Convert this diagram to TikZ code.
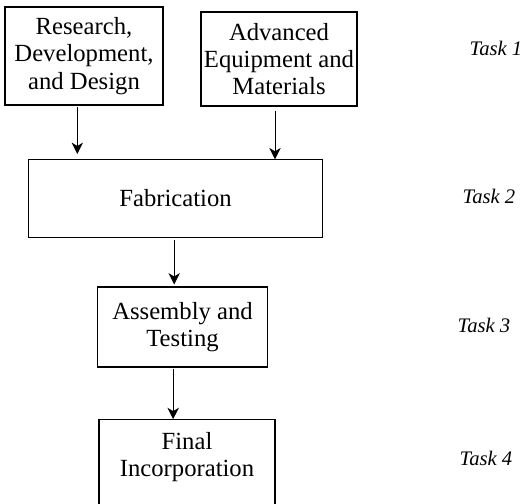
\documentclass[tikz,border=0pt]{standalone}
\usepackage{fontspec}
\setmainfont{Liberation Serif}
\usepackage{tikz}
\usetikzlibrary{positioning,arrows.meta}
\tikzset{
  box/.style={rectangle,draw=black,line width=0.8pt,align=center,inner sep=2pt,
    font=\fontsize{18.5}{20.5}\selectfont},
  task/.style={font=\fontsize{15.5}{17}\selectfont\itshape},
  fl/.style={-{Stealth[length=8.5pt,width=8.5pt,inset=2.5pt]},line width=0.7pt},
}
\begin{document}
\begin{tikzpicture}[x=0.75pt,y=-0.75pt]
  \useasboundingbox (0,0) rectangle (523,503);
  \node[box,minimum width=118.5pt,minimum height=73.5pt] (rdd) at (84,56) {Research,\\Development,\\and Design};
  \node[box,minimum width=117pt,minimum height=70.5pt] (aem) at (279,59) {Advanced\\Equipment and\\Materials};
  \node[box,minimum width=221pt,minimum height=58pt] (fab) at (175.5,198.5) {Fabrication};
  \node[box,minimum width=128pt,minimum height=60pt] (asm) at (182.5,327) {Assembly and\\Testing};
  \node[box,minimum width=132pt,minimum height=74pt,text depth=22pt] (fin) at (187,469) {Final\\Incorporation};
  \node[task] (t1) at (496,48) {Task 1};
  \node[task] (t2) at (489,196) {Task 2};
  \node[task] (t3) at (484,325) {Task 3};
  \node[task] (t4) at (486,458) {Task 4};
  \draw[fl,shorten <=1pt,shorten >=4pt] ([xshift=-5pt]rdd.south) -- ([xshift=-5pt]rdd.south |- fab.north);
  \draw[fl,shorten <=3pt] ([xshift=-3pt]aem.south) -- ([xshift=-3pt]aem.south |- fab.north);
  \draw[fl,shorten <=1.5pt,shorten >=1.5pt] ([xshift=-1pt]fab.south) -- ([xshift=-1pt]fab.south |- asm.north);
  \draw[fl,shorten <=1pt] ([xshift=-7pt]asm.south) -- ([xshift=-7pt]asm.south |- fin.north);
\end{tikzpicture}
\end{document}
